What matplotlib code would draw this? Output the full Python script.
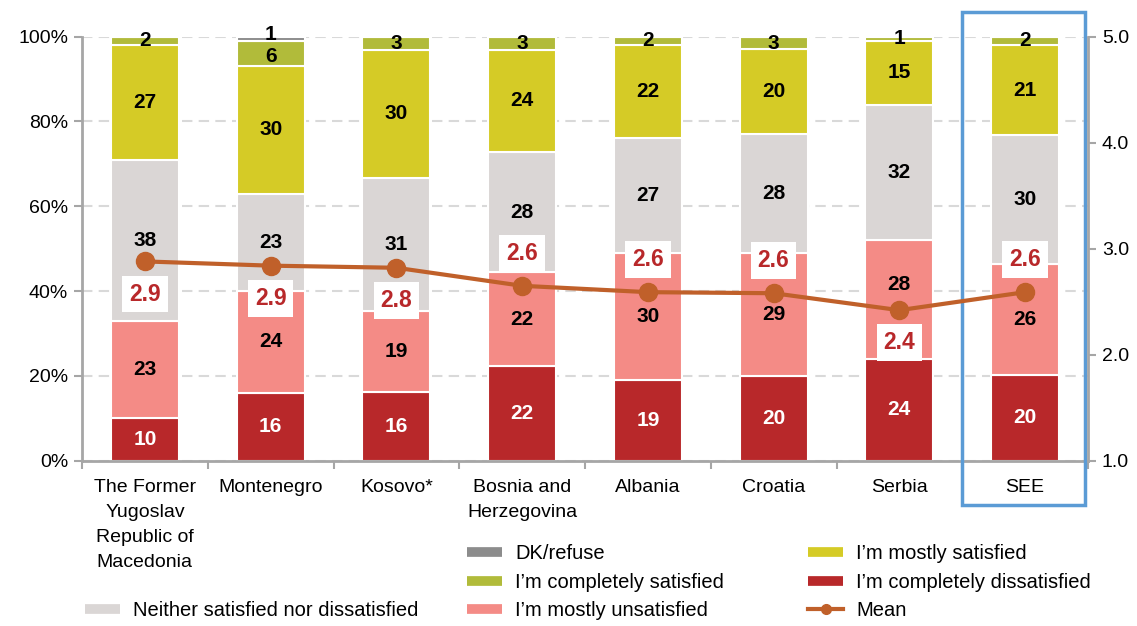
import matplotlib.pyplot as plt
from matplotlib.lines import Line2D
from matplotlib.patches import Rectangle
import numpy as np

plt.rcParams['font.family'] = ['Liberation Sans', 'DejaVu Sans']

categories = ["The Former\nYugoslav\nRepublic of\nMacedonia", "Montenegro", "Kosovo*",
              "Bosnia and\nHerzegovina", "Albania", "Croatia", "Serbia", "SEE"]

# segments from bottom to top (rounded %, each bar is drawn scaled to 100%)
completely_dissatisfied = [10, 16, 16, 22, 19, 20, 24, 20]
mostly_unsatisfied = [23, 24, 19, 22, 30, 29, 28, 26]
neither = [38, 23, 31, 28, 27, 28, 32, 30]
mostly_satisfied = [27, 30, 30, 24, 22, 20, 15, 21]
completely_satisfied = [2, 6, 3, 3, 2, 3, 1, 2]
dk_refuse = [0, 1, 0, 0, 0, 0, 0, 0]

mean = [2.88, 2.84, 2.82, 2.65, 2.59, 2.58, 2.42, 2.59]
mean_labels = ["2.9", "2.9", "2.8", "2.6", "2.6", "2.6", "2.4", "2.6"]
mean_label_side = [-1, -1, -1, 1, 1, 1, -1, 1]  # -1 below the point, 1 above

series = [
    ("I’m completely dissatisfied", completely_dissatisfied, "#B8282A", "white"),
    ("I’m mostly unsatisfied", mostly_unsatisfied, "#F48B86", "black"),
    ("Neither satisfied nor dissatisfied", neither, "#DAD6D5", "black"),
    ("I’m mostly satisfied", mostly_satisfied, "#D5CB26", "black"),
    ("I’m completely satisfied", completely_satisfied, "#B1BB3A", "black"),
    ("DK/refuse", dk_refuse, "#8C8C8C", "black"),
]
# labels nudged apart (series index, bar index) -> shift in %
label_nudge = {(1, 6): 3.5, (5, 1): 1.0, (4, 1): -0.6}

mean_color = "#C0602A"
label_red = "#B8282A"
axis_gray = "#A6A6A6"

W, H = 1137, 626
fig = plt.figure(figsize=(W / 100, H / 100), dpi=100)
ax = fig.add_axes([82 / W, 1 - 460.7 / H, (1088 - 82) / W, (460.7 - 36.7) / H])

x = np.arange(len(categories))
totals = np.sum([np.array(s[1], dtype=float) for s in series], axis=0)
bottom = np.zeros(len(categories))
for k, (name, vals, color, tcolor) in enumerate(series):
    raw = np.array(vals, dtype=float)
    h = raw / totals * 100
    ax.bar(x, h, 0.54, bottom=bottom, color=color, edgecolor="white", linewidth=1.5, zorder=2)
    for i, v in enumerate(raw):
        if v > 0:
            ax.text(x[i], bottom[i] + h[i] / 2 + label_nudge.get((k, i), 0), f"{v:.0f}",
                    ha="center", va="center", fontsize=15, fontweight="bold",
                    color=tcolor, zorder=3)
    bottom += h

ax.set_xlim(-0.5, len(categories) - 0.5)
ax.set_ylim(0, 100)
ax.set_yticks(np.arange(0, 101, 20))
ax.set_yticklabels([f"{v}%" for v in range(0, 101, 20)])
ax.set_xticks(x)
ax.set_xticklabels(categories, linespacing=1.62)
ax.set_xticks(np.arange(-0.5, len(categories)), minor=True)
ax.tick_params(axis="x", which="major", length=0, labelsize=14, pad=13)
ax.tick_params(axis="x", which="minor", length=6, width=1.5, color=axis_gray)
ax.tick_params(axis="y", length=6, width=1.5, color=axis_gray, labelsize=14, pad=4)
ax.grid(axis="y", color="#D9D9D9", linestyle=(0, (5, 3)), linewidth=1.5)
ax.set_axisbelow(True)
for s in ["top", "right"]:
    ax.spines[s].set_visible(False)
for s in ["left", "bottom"]:
    ax.spines[s].set_color(axis_gray)
    ax.spines[s].set_linewidth(2)

ax2 = ax.twinx()
ax2.set_ylim(1, 5)
ax2.set_yticks([1, 2, 3, 4, 5])
ax2.set_yticklabels([f"{v:.1f}" for v in [1, 2, 3, 4, 5]])
ax2.tick_params(axis="y", length=6, width=1.5, color=axis_gray, labelsize=14, pad=4)
for s in ["top", "left", "bottom"]:
    ax2.spines[s].set_visible(False)
ax2.spines["right"].set_color(axis_gray)
ax2.spines["right"].set_linewidth(2)

ax2.plot(x, mean, color=mean_color, linewidth=3, marker="o", markersize=13, zorder=4)
for i, (m, lab, side) in enumerate(zip(mean, mean_labels, mean_label_side)):
    ax2.annotate(lab, (x[i], m), xytext=(0, 23.5 * side), textcoords="offset points",
                 ha="center", va="center", fontsize=16.5, fontweight="bold", color=label_red,
                 bbox=dict(boxstyle="square,pad=0.3", fc="white", ec="none"), zorder=5)

# highlight box round the SEE bar
i_see = categories.index("SEE")
ax.add_patch(Rectangle((i_see - 0.5, -10.5), 0.975, 116.3, fill=False, edgecolor="#5B9BD5",
                       linewidth=2.5, clip_on=False, zorder=6))

# legend in three columns
def patch_handle(color):
    return Line2D([], [], color=color, linewidth=7, solid_capstyle="butt")

colors = {name: color for name, vals, color, t in series}
mean_handle = Line2D([], [], color=mean_color, linewidth=3, marker="o", markersize=7)
blank = Line2D([], [], color="none")

cols = [
    ([blank, blank, patch_handle(colors["Neither satisfied nor dissatisfied"])],
     [" ", " ", "Neither satisfied nor dissatisfied"], 85),
    ([patch_handle(colors["DK/refuse"]), patch_handle(colors["I’m completely satisfied"]),
      patch_handle(colors["I’m mostly unsatisfied"])],
     ["DK/refuse", "I’m completely satisfied", "I’m mostly unsatisfied"], 467),
    ([patch_handle(colors["I’m mostly satisfied"]), patch_handle(colors["I’m completely dissatisfied"]),
      mean_handle],
     ["I’m mostly satisfied", "I’m completely dissatisfied", "Mean"], 808),
]
for handles, labels, xpix in cols:
    fig.legend(handles, labels, loc="upper left", bbox_to_anchor=(xpix / W, 1 - 544 / H),
               frameon=False, fontsize=14.5, handlelength=1.75, handletextpad=0.65,
               labelspacing=0.48, borderaxespad=0, borderpad=0)

fig.savefig("out.png", dpi=100)
